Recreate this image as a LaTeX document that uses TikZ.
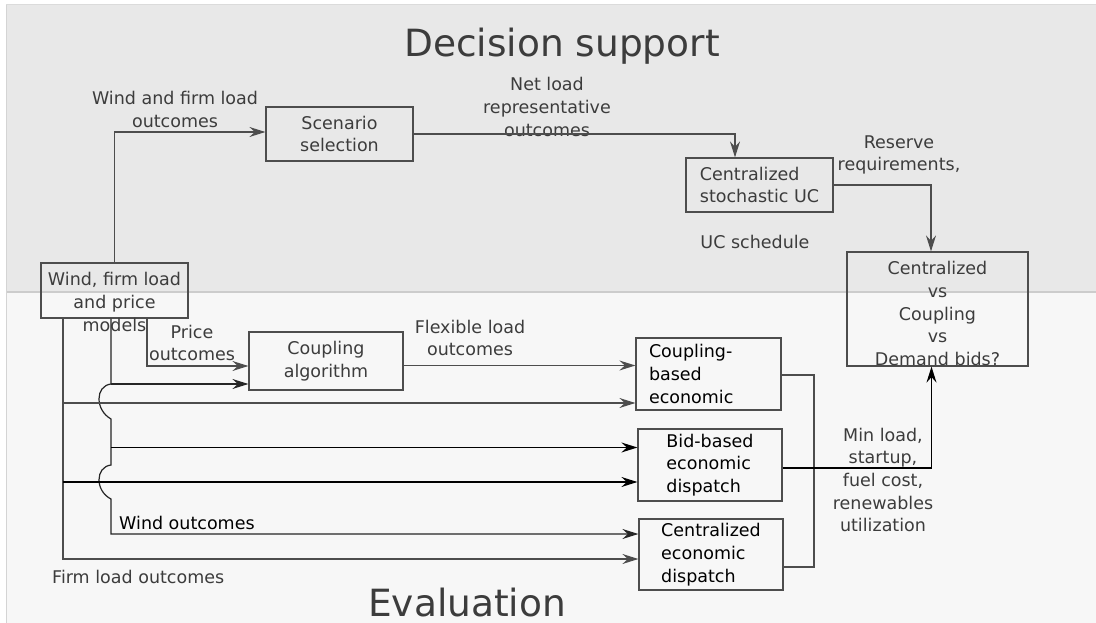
\documentclass[tikz,border=0pt]{standalone}
\usepackage{fontspec}
\setmainfont{DejaVu Sans}
\usetikzlibrary{arrows.meta}
\definecolor{topbg}{HTML}{E8E8E8}
\definecolor{botbg}{HTML}{F7F7F7}
\definecolor{edgec}{HTML}{4D4D4D}
\definecolor{txtc}{HTML}{3C3C3C}
\newcommand\lblfont{\fontsize{17.5}{22.7}\selectfont}
\newcommand\ttlfont{\fontsize{37.5}{40}\selectfont}
\begin{document}
\begin{tikzpicture}[x=1pt,y=-1pt,
  box/.style={draw=edgec, line width=1.2pt, inner sep=0pt, text=txtc, font=\lblfont, align=center},
  lbl/.style={text=txtc, font=\lblfont, align=center, inner sep=0pt},
  arr/.style={-{Stealth[length=16pt,width=10pt,inset=5.5pt]}, line width=1.2pt},
  conn/.style={line width=1.2pt}]
\useasboundingbox (0,0) rectangle (1096,623);
% background panels
\fill[white] (0,0) rectangle (1096,623);
\fill[topbg] (6,5) rectangle (1096,292);
\fill[botbg] (6,292) rectangle (1096,623);
\draw[line width=2pt, color=black!20] (6,292) -- (1096,292);
\draw[line width=1.5pt, color=black!17] (6.5,5) -- (6.5,623);
\draw[line width=1pt, color=black!14] (6,5) -- (1096,5);
% titles
\node[anchor=base west, font=\ttlfont, text=txtc, inner sep=0pt] (dtitle) at (404,57) {Decision support};
\node[anchor=base west, font=\ttlfont, text=txtc, inner sep=0pt] (etitle) at (368,616) {Evaluation};
% boxes
\node[box, minimum width=147pt, minimum height=55pt] (models) at (114.5,290.5) {};
\node[lbl] (modelstext) at (114.5,302) {Wind, firm load\\and price\\models};
\node[box, minimum width=147pt, minimum height=54pt] (scen) at (339.5,134) {Scenario\\selection};
\node[box, minimum width=154pt, minimum height=58pt] (couple) at (326,361) {Coupling\\algorithm};
\node[box, minimum width=147pt, minimum height=54pt, align=left] (suc) at (759.5,185) {Centralized\\stochastic UC};
\node[box, minimum width=181pt, minimum height=114pt] (cmp) at (937.5,309) {};
\node[lbl] (cmptext) at (937.5,313.5) {Centralized\\vs\\Coupling\\vs\\Demand bids?};
\node[box, minimum width=145pt, minimum height=72pt, text=black, align=left, text width=119pt, inner xsep=13pt] (cbed) at (708.5,374) {Coupling-\\based\\economic};
\node[box, minimum width=144pt, minimum height=72pt, text=black, align=left] (bbed) at (710,465) {Bid-based\\economic\\dispatch};
\node[box, minimum width=144pt, minimum height=71pt, text=black, align=left] (ced) at (711,554.5) {Centralized\\economic\\dispatch};
% labels
\node[lbl] (l1) at (175,109.5) {Wind and firm load\\outcomes};
\node[lbl] (l2) at (547,107) {Net load\\representative\\outcomes};
\node[lbl] (l3) at (899,155) {Reserve\\requirements,};
\node[lbl] (l4) at (755,242) {UC schedule};
\node[lbl] (l5) at (192,343) {Price\\outcomes};
\node[lbl] (l6) at (470,338) {Flexible load\\outcomes};
\node[lbl, anchor=base west, text=black] (l7) at (119,529) {Wind outcomes};
\node[lbl, anchor=base west] (l8) at (52,583) {Firm load outcomes};
\node[lbl] (l9) at (883,480) {Min load,\\startup,\\fuel cost,\\renewables\\utilization};
% junction coordinates
\coordinate (wtop) at ([xshift=-3.5pt]models.south);
\coordinate (ftop) at ([xshift=-51.5pt]models.south);
\coordinate (w1) at (111,384);
\coordinate (w1b) at (111,419);
\coordinate (w2) at (111,447.5);
\coordinate (w2a) at (111,465);
\coordinate (w2b) at (111,499);
\coordinate (f1) at (63,403);
\coordinate (f2) at (63,482);
\coordinate (bus) at (814,375);
% decision support connectors
\draw[arr, edgec] (models.north) |- ([yshift=2pt]scen.west);
\draw[arr, edgec] (scen.east) -| ([xshift=-24.5pt]suc.north);
\draw[arr, edgec] (suc.east) -| ([xshift=-6.5pt]cmp.north);
% evaluation connectors
\draw[arr, edgec] ([xshift=32.5pt]models.south) |- ([yshift=-5pt]couple.west);
\draw[arr, edgec] ([yshift=-4.5pt]couple.east) -- ([yshift=-4.5pt]couple.east -| cbed.west);
% wind bus
\draw[arr, black!85] (wtop) -- (w1) .. controls (95,386) and (95,410) .. (w1b) -- (w2a)
   .. controls (95,467) and (95,491) .. (w2b) |- ([yshift=20.5pt]ced.west);
\draw[arr, black!85] (w1) -- (w1 -| couple.west);
\draw[arr, black] (w2) -- (w2 -| bbed.west);
% firm load bus
\draw[arr, edgec] (ftop) |- ([yshift=-4.5pt]ced.west);
\draw[arr, edgec] (f1) -- (f1 -| cbed.west);
\draw[arr, black] (f2) -- (f2 -| bbed.west);
% outputs
\draw[conn, edgec] ([yshift=-1pt]cbed.east) -| (bus) |- ([yshift=-12.5pt]ced.east);
\draw[arr, black] ([yshift=-3pt]bbed.east) -| ([xshift=-6pt]cmp.south);
\end{tikzpicture}
\end{document}
